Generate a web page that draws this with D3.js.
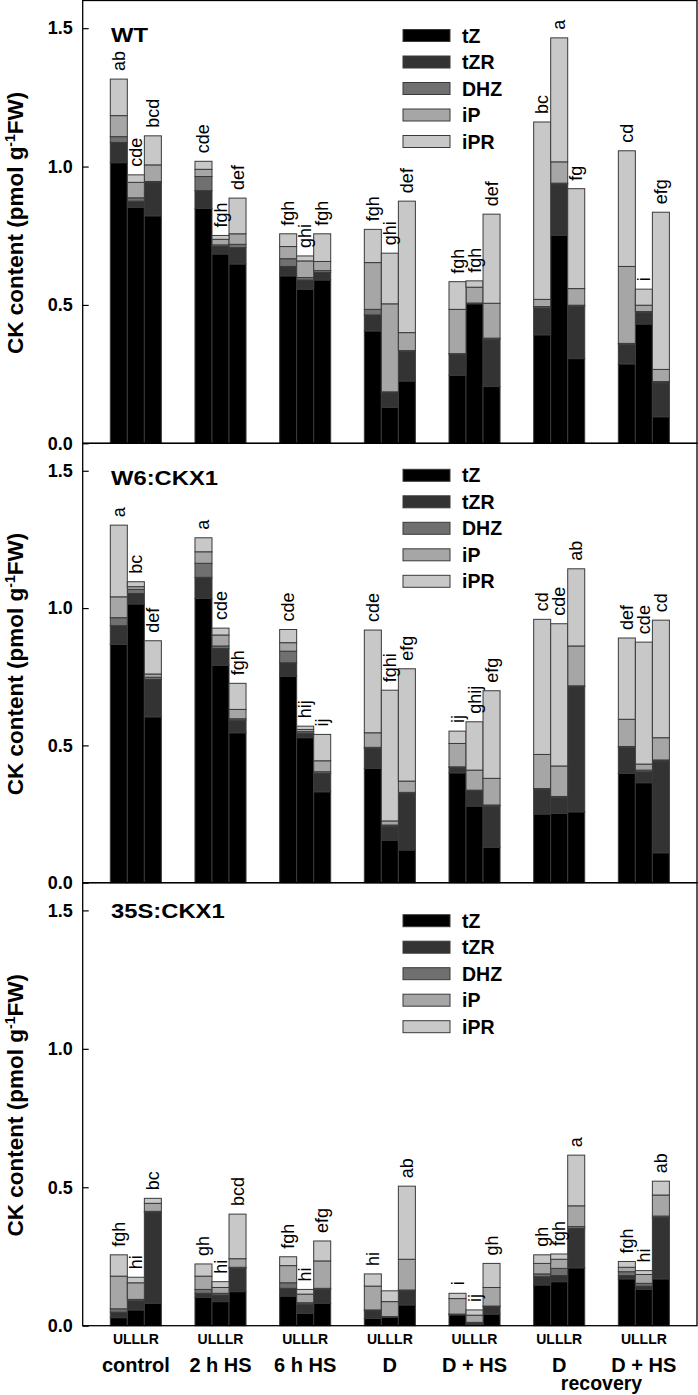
<!DOCTYPE html>
<html>
<head>
<meta charset="utf-8">
<script src="https://cdn.jsdelivr.net/npm/d3@7"></script>
<style>
  html, body { margin: 0; padding: 0; background: #fff; }
  svg { display: block; font-family: "Liberation Sans", Arial, Helvetica, sans-serif; }
</style>
</head>
<body>
<svg id="chart" width="698" height="1395"></svg>
<script>
// ---------------- DATA ----------------
const groups = ["control", "2 h HS", "6 h HS", "D", "D + HS", "D recovery", "D + HS recovery"];
const tissues = ["UL", "LL", "R"];
const compounds = ["tZ", "tZR", "DHZ", "iP", "iPR"];
const panelNames = ["WT", "W6:CKX1", "35S:CKX1"];
const yTicks = [0, 0.5, 1.0, 1.5];

// order: for each group -> UL, LL, R  (pmol g-1 FW)
const WT_tZ  = [1.014,0.853,0.822, 0.849,0.684,0.648, 0.605,0.557,0.590, 0.406,0.130,0.225, 0.246,0.504,0.205, 0.392,0.752,0.306, 0.287,0.431,0.096];
const WT_tZR = [0.073,0.022,0.120, 0.064,0.027,0.059, 0.034,0.033,0.027, 0.058,0.053,0.106, 0.076,0.002,0.171, 0.097,0.185,0.190, 0.071,0.041,0.123];
const WT_DHZ = [0.021,0.012,0.004, 0.051,0.006,0.012, 0.028,0.009,0.007, 0.020,0.003,0.004, 0.002,0.001,0.004, 0.005,0.003,0.003, 0.003,0.004,0.004];
const WT_iP  = [0.076,0.056,0.060, 0.026,0.020,0.038, 0.044,0.060,0.033, 0.169,0.318,0.065, 0.160,0.057,0.126, 0.026,0.077,0.060, 0.278,0.023,0.044];
const WT_iPR = [0.132,0.027,0.105, 0.029,0.014,0.129, 0.046,0.018,0.100, 0.120,0.183,0.475, 0.100,0.023,0.322, 0.641,0.448,0.361, 0.418,0.058,0.568];
const WT_letters = ["ab","cde","bcd", "cde","fgh","def", "fgh","ghi","fgh", "fgh","ghi","def", "fgh","fgh","def", "bc","a","fg", "cd","i","efg"];

const W6_tZ  = [0.868,1.015,0.604, 1.035,0.792,0.546, 0.752,0.528,0.331, 0.416,0.155,0.119, 0.400,0.279,0.129, 0.250,0.252,0.258, 0.398,0.364,0.109];
const W6_tZR = [0.068,0.038,0.136, 0.077,0.061,0.046, 0.049,0.016,0.067, 0.073,0.051,0.206, 0.020,0.056,0.150, 0.090,0.059,0.456, 0.095,0.040,0.334];
const W6_DHZ = [0.029,0.015,0.008, 0.051,0.009,0.005, 0.042,0.006,0.006, 0.004,0.004,0.004, 0.002,0.002,0.004, 0.003,0.003,0.003, 0.003,0.006,0.004];
const W6_iP  = [0.076,0.010,0.012, 0.042,0.040,0.034, 0.031,0.008,0.040, 0.053,0.015,0.041, 0.085,0.073,0.097, 0.124,0.111,0.145, 0.099,0.022,0.081];
const W6_iPR = [0.261,0.018,0.121, 0.051,0.025,0.095, 0.048,0.012,0.096, 0.374,0.476,0.409, 0.045,0.176,0.319, 0.492,0.518,0.281, 0.296,0.444,0.428];
const W6_letters = ["a","bc","def", "a","cde","fgh", "cde","hij","ij", "cde","fghi","efg", "ij","ghij","efg", "cd","cde","ab", "def","cde","cd"];

const S35_tZ  = [0.029,0.057,0.081, 0.102,0.087,0.123, 0.107,0.045,0.081, 0.026,0.030,0.075, 0.039,0.005,0.042, 0.147,0.159,0.209, 0.169,0.131,0.169];
const S35_tZR = [0.020,0.033,0.328, 0.015,0.024,0.084, 0.028,0.033,0.050, 0.028,0.002,0.051, 0.002,0.005,0.027, 0.030,0.022,0.142, 0.012,0.012,0.222];
const S35_DHZ = [0.012,0.005,0.004, 0.014,0.006,0.004, 0.020,0.005,0.004, 0.003,0.001,0.003, 0.001,0.002,0.002, 0.010,0.026,0.007, 0.014,0.010,0.005];
const S35_iP  = [0.118,0.060,0.029, 0.048,0.021,0.031, 0.062,0.031,0.099, 0.086,0.054,0.111, 0.056,0.026,0.067, 0.038,0.033,0.075, 0.016,0.032,0.076];
const S35_iPR = [0.077,0.020,0.018, 0.044,0.021,0.161, 0.032,0.017,0.072, 0.044,0.039,0.264, 0.019,0.019,0.087, 0.031,0.019,0.183, 0.021,0.014,0.050];
const S35_letters = ["fgh","hi","bc", "gh","hi","bcd", "fgh","hi","efg", "hi","","ab", "i","ij","gh", "gh","fgh","a", "fgh","hi","ab"];

const panelSeries = [
  [WT_tZ, WT_tZR, WT_DHZ, WT_iP, WT_iPR],
  [W6_tZ, W6_tZR, W6_DHZ, W6_iP, W6_iPR],
  [S35_tZ, S35_tZR, S35_DHZ, S35_iP, S35_iPR]
];
const panelLetters = [WT_letters, W6_letters, S35_letters];

// ---------------- LAYOUT / STYLE ----------------
const colors = ["#000000", "#333333", "#707070", "#a6a6a6", "#c8c8c8"];
const left = 82.7, right = 697;
const panelTops = [0.5, 443.3, 882.7];
const panelBottoms = [443.3, 882.7, 1325.7];
const titleOffsets = [41.5, 42, 35.5];
const legendOffsets = [29, 26, 32];
const font = '"Liberation Sans", Arial, Helvetica, sans-serif';

const svg = d3.select("#chart");

const x0 = d3.scaleBand().domain(groups).range([left, right]).paddingInner(0.397).paddingOuter(0.326);
const x1 = d3.scaleBand().domain(tissues).range([0, x0.bandwidth()]).padding(0);

const stack = d3.stack().keys(compounds);

panelNames.forEach((pname, p) => {
  const top = panelTops[p], bottom = panelBottoms[p];
  const y = d3.scaleLinear().domain([0, 1.6]).range([bottom, top]);
  const g = svg.append("g");

  const rows = [];
  groups.forEach((grp, gi) => {
    tissues.forEach((t, ti) => {
      const i = gi * 3 + ti;
      const row = { group: grp, tissue: t, letter: panelLetters[p][i] };
      compounds.forEach((c, ci) => { row[c] = panelSeries[p][ci][i]; });
      rows.push(row);
    });
  });
  const series = stack(rows);

  // bars
  series.forEach((s, si) => {
    g.append("g").selectAll("rect").data(s).join("rect")
      .attr("x", d => x0(d.data.group) + x1(d.data.tissue))
      .attr("width", x1.bandwidth())
      .attr("y", d => y(d[1]))
      .attr("height", d => Math.max(0, y(d[0]) - y(d[1])))
      .attr("fill", colors[si])
      .attr("stroke", "#3a3a3a")
      .attr("stroke-width", 1);
  });

  // letters
  const totals = series[series.length - 1];
  g.append("g").selectAll("text").data(totals).join("text")
    .attr("transform", d => `translate(${x0(d.data.group) + x1(d.data.tissue) + x1.bandwidth() / 2 + 6},${y(d[1]) - 8}) rotate(-90)`)
    .attr("text-anchor", "start")
    .attr("font-size", 18)
    .attr("font-family", font)
    .attr("fill", "#000")
    .text(d => d.data.letter);

  // frame
  g.append("rect")
    .attr("x", left).attr("y", top)
    .attr("width", right - left).attr("height", bottom - top)
    .attr("fill", "none").attr("stroke", "#000").attr("stroke-width", 1.3);

  // y axis (ticks pointing inward)
  const ax = g.append("g").attr("transform", `translate(${left},0)`)
    .call(d3.axisLeft(y).tickValues(yTicks).tickFormat(d3.format(".1f")).tickSize(-6).tickPadding(10));
  ax.select(".domain").remove();
  ax.selectAll(".tick line").attr("stroke", "#000").attr("stroke-width", 1.2);
  ax.selectAll(".tick text")
    .attr("font-size", 18).attr("font-weight", "bold").attr("font-family", font).attr("fill", "#000");

  // y label
  const yl = g.append("text")
    .attr("transform", `translate(23,${(top + bottom) / 2 + 1}) rotate(-90)`)
    .attr("text-anchor", "middle")
    .attr("font-size", 22.5).attr("font-weight", "bold").attr("font-family", font);
  yl.append("tspan").text("CK content (pmol g");
  yl.append("tspan").attr("font-size", 14).attr("dy", -8).text("-1");
  yl.append("tspan").attr("dy", 8).text("FW)");

  // title (slightly wide lettering as in the original)
  g.append("text")
    .attr("transform", `translate(111,${top + titleOffsets[p]}) scale(1.22,1)`)
    .attr("font-size", 19.5).attr("font-weight", "bold").attr("font-family", font)
    .text(pname);

  // legend
  const lg = g.append("g").attr("transform", `translate(403,${top + legendOffsets[p]})`);
  compounds.forEach((c, ci) => {
    lg.append("rect").attr("x", 0).attr("y", ci * 26.5).attr("width", 47).attr("height", 12)
      .attr("fill", colors[ci]).attr("stroke", "#3a3a3a").attr("stroke-width", 1);
    lg.append("text").attr("x", 59).attr("y", ci * 26.5 + 13)
      .attr("font-size", 19.5).attr("font-weight", "bold").attr("font-family", font)
      .text(c);
  });
});

// x labels at bottom
const bottomY = panelBottoms[2];
const xl = svg.append("g");
groups.forEach(grp => {
  const cx = x0(grp) + x0.bandwidth() / 2;
  xl.append("text").attr("x", cx).attr("y", bottomY + 18)
    .attr("text-anchor", "middle").attr("font-size", 14).attr("font-weight", "bold").attr("font-family", font)
    .text(tissues.join(""));
  xl.append("text").attr("x", cx).attr("y", bottomY + 46)
    .attr("text-anchor", "middle").attr("font-size", 20).attr("font-weight", "bold").attr("font-family", font)
    .text(grp.replace(" recovery", ""));
});
const recGroups = groups.filter(g => g.endsWith("recovery"));
const recX = d3.mean(recGroups, g => x0(g) + x0.bandwidth() / 2);
xl.append("text").attr("x", recX).attr("y", bottomY + 64)
  .attr("text-anchor", "middle").attr("font-size", 19.5).attr("font-weight", "bold").attr("font-family", font)
  .text("recovery");
</script>
</body>
</html>
